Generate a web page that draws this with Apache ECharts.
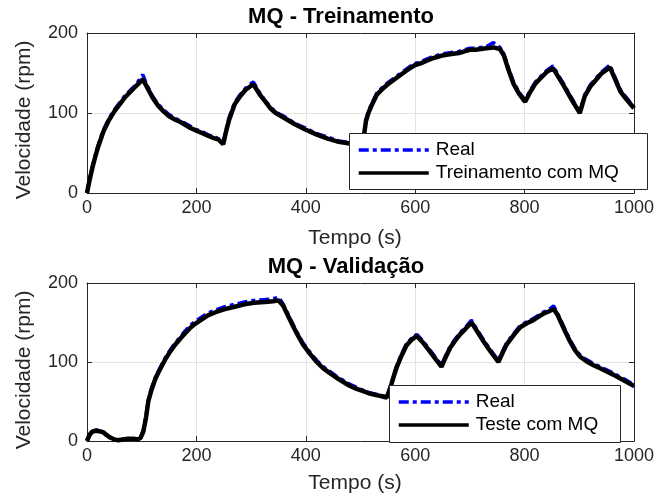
<!DOCTYPE html>
<html>
<head>
<meta charset="utf-8">
<script src="https://cdn.jsdelivr.net/npm/echarts@6/dist/echarts.min.js"></script>
<style>html,body{margin:0;padding:0;background:#fff}#c{width:667px;height:502px}</style>
</head>
<body>
<div id="c"></div>
<script>
// ---- Data ----
var xTicks = [0, 200, 400, 600, 800, 1000];
var yTicks = [0, 100, 200];

// Top plot: MQ - Treinamento
var tTrain = [0,5,10,15,20,30,40,50,60,70,80,90,102,110,120,130,140,150,160,170,180,190,200,210,220,230,240,249,255,260,270,280,290,304,315,325,335,345,360,380,400,420,440,460,480,495,505,510,515,520,530,540,550,560,570,580,590,600,610,620,630,640,650,660,670,680,690,700,710,720,730,743,755,762,770,780,790,801,810,820,830,840,852,860,870,880,890,901,910,920,930,940,956,965,975,985,995,1000];
var realTrain = [0,19,34,47,59,79,93,104,113,122,129,136,148,134,121,111,104,98,94,90,87,83,79,77,73,71,68,64,81,95,113,123,131,139,126,116,108,101,96,87,81,74,70,65,63,64,67,92,103,111,125,132,138,143,148,153,158,162,164,167,170,172,174,175,176,177,179,181,181,182,183,188,182,174,157,138,126,116,128,139,146,153,159,149,138,126,114,101,123,135,143,151,160,145,129,120,112,107];
var mqTrain = [0,17,32,45,57,77,91,102,111,120,127,134,142,132,119,109,102,96,92,89,85,81,78,75,72,69,67,61,79,92,111,121,129,136,124,115,106,100,94,86,79,73,68,64,62,62,65,90,101,109,123,130,136,141,146,151,156,160,162,165,168,170,172,173,174,175,177,179,179,180,181,182,180,172,155,136,124,114,126,137,144,151,156,147,136,124,112,100,121,133,141,149,157,143,127,118,110,106];

// Bottom plot: MQ - Validação
var tVal = [0,5,10,17,25,30,35,41,50,57,65,75,85,93,98,103,108,112,118,124,130,142,150,160,170,179,190,197,210,221,235,252,270,288,305,325,340,350,358,368,377,386,395,408,420,432,444,456,468,480,493,505,517,530,542,548,554,560,566,575,584,593,603,615,627,638,648,655,664,673,682,692,703,714,725,738,752,760,767,780,792,804,816,825,834,844,853,860,866,874,883,892,901,913,926,938,950,962,975,986,996,1000];
var realVal = [0,9,13,14,13,11,8,4,2,0,2,3,3,2,5,14,32,52,67,79,88,104,113,123,131,139,147,151,157,162,166,170,173,176,178,179,180,182,174,160,147,135,124,112,102,94,88,82,77,72,68,64,61,59,57,56,68,82,95,110,123,130,135,126,115,105,96,107,120,129,137,144,153,140,128,115,102,114,124,136,146,151,155,159,163,166,171,162,153,141,128,117,109,103,98,94,90,86,81,77,73,68];
var mqVal = [0,8,12,13,12,11,8,5,2,1,2,3,3,2,4,12,30,50,65,77,86,102,111,121,129,136,144,148,154,159,163,167,170,173,175,176,177,178,172,158,145,133,122,110,100,92,86,80,75,70,66,63,60,58,56,55,66,80,93,108,121,128,133,124,113,103,94,105,118,127,135,142,150,138,126,113,100,112,122,134,144,149,153,157,161,164,167,160,151,139,126,115,107,101,96,92,88,84,79,75,71,70];

var titles = ['MQ - Treinamento', 'MQ - Validação'];
var xName = 'Tempo (s)';
var yName = 'Velocidade (rpm)';
var legendTop = ['Real', 'Treinamento com MQ'];
var legendBottom = ['Real', 'Teste com MQ'];

// ---- Build ----
function pairs(t, v) { return t.map(function (x, i) { return [x, v[i]]; }); }

var FONT = '"Liberation Sans", Arial, Helvetica, sans-serif';
var AX = '#262626';
var GRID = '#e3e3e3';
function plain(v) { return String(v); }

function xAxisBottom(gi) {
  return {
    type: 'value', gridIndex: gi, position: 'bottom',
    min: xTicks[0], max: xTicks[xTicks.length - 1], interval: xTicks[1] - xTicks[0],
    axisLine: { show: true, onZero: false, lineStyle: { color: AX, width: 1 } },
    axisTick: { show: true, inside: true, length: 5, lineStyle: { color: AX } },
    axisLabel: { color: AX, fontSize: 18, fontFamily: FONT, margin: 6, formatter: plain },
    splitLine: { show: true, lineStyle: { color: GRID, width: 1 } }
  };
}
function xAxisTop(gi) {
  return {
    type: 'value', gridIndex: gi, position: 'top',
    min: xTicks[0], max: xTicks[xTicks.length - 1], interval: xTicks[1] - xTicks[0],
    axisLine: { show: true, onZero: false, lineStyle: { color: AX, width: 1 } },
    axisTick: { show: true, inside: true, length: 5, lineStyle: { color: AX } },
    axisLabel: { show: false }, splitLine: { show: false }
  };
}
function yAxisLeft(gi) {
  return {
    type: 'value', gridIndex: gi, position: 'left',
    min: yTicks[0], max: yTicks[yTicks.length - 1], interval: yTicks[1] - yTicks[0],
    axisLine: { show: true, onZero: false, lineStyle: { color: AX, width: 1 } },
    axisTick: { show: true, inside: true, length: 5, lineStyle: { color: AX } },
    axisLabel: { color: AX, fontSize: 18, fontFamily: FONT, margin: 9, formatter: plain },
    splitLine: { show: true, lineStyle: { color: GRID, width: 1 } }
  };
}
function yAxisRight(gi) {
  return {
    type: 'value', gridIndex: gi, position: 'right',
    min: yTicks[0], max: yTicks[yTicks.length - 1], interval: yTicks[1] - yTicks[0],
    axisLine: { show: true, onZero: false, lineStyle: { color: AX, width: 1 } },
    axisTick: { show: true, inside: true, length: 5, lineStyle: { color: AX } },
    axisLabel: { show: false }, splitLine: { show: false }
  };
}

function realSeries(name, data, xi, yi) {
  return {
    type: 'line', name: name, data: data, xAxisIndex: xi, yAxisIndex: yi,
    symbol: 'none', showSymbol: false, silent: true, z: 2,
    color: '#0000ff',
    lineStyle: { color: '#0000ff', width: 3.5, type: [10, 4, 4, 4] }
  };
}
function mqSeries(name, data, xi, yi) {
  return {
    type: 'line', name: name, data: data, xAxisIndex: xi, yAxisIndex: yi,
    symbol: 'none', showSymbol: false, silent: true, z: 3,
    color: '#000000',
    lineStyle: { color: '#000000', width: 4.5, type: 'solid' }
  };
}

function legend(data, left, top) {
  return {
    data: data, orient: 'vertical', left: left, top: top, z: 20,
    padding: [7, 0, 0, 8], itemGap: 3, itemWidth: 70, itemHeight: 14,
    selectedMode: false,
    itemStyle: { opacity: 0, color: 'rgba(0,0,0,0)', borderWidth: 0 },
    lineStyle: { width: 3.5 },
    textStyle: { color: '#000', fontSize: 19, lineHeight: 20, fontFamily: FONT, padding: [0, 0, 0, 2] }
  };
}

function txt(s, x, y, size, bold, rot) {
  return {
    type: 'text', x: x, y: y, rotation: rot || 0, silent: true, z: 10,
    style: {
      text: s, fill: bold ? '#000' : AX, fontSize: size, fontFamily: FONT,
      fontWeight: bold ? 'bold' : 'normal', textAlign: 'center', textVerticalAlign: 'middle'
    }
  };
}
function box(x, y, w, h) {
  return {
    type: 'rect', silent: true, z: 8,
    shape: { x: x + 0.5, y: y + 0.5, width: w, height: h },
    style: { fill: '#ffffff', stroke: AX, lineWidth: 1 }
  };
}

var chart = echarts.init(document.getElementById('c'), null, { renderer: 'canvas' });
chart.setOption({
  animation: false,
  backgroundColor: '#ffffff',
  grid: [
    { left: 87, right: 33, top: 33, height: 160 },
    { left: 87, right: 33, top: 283, height: 158 }
  ],
  xAxis: [xAxisBottom(0), xAxisTop(0), xAxisBottom(1), xAxisTop(1)],
  yAxis: [yAxisLeft(0), yAxisRight(0), yAxisLeft(1), yAxisRight(1)],
  legend: [
    legend(legendTop, 349, 133),
    legend(legendBottom, 389, 385)
  ],
  series: [
    realSeries(legendTop[0], pairs(tTrain, realTrain), 0, 0),
    mqSeries(legendTop[1], pairs(tTrain, mqTrain), 0, 0),
    realSeries(legendBottom[0], pairs(tVal, realVal), 2, 2),
    mqSeries(legendBottom[1], pairs(tVal, mqVal), 2, 2)
  ],
  graphic: [
    box(349, 133, 298, 56),
    box(389, 385, 231, 57),
    txt(titles[0], 341, 17, 22, true),
    txt(titles[1], 346, 267, 22, true),
    txt(yName, 24, 120, 21, false, Math.PI / 2),
    txt(yName, 24, 370, 21, false, Math.PI / 2),
    txt(xName, 355, 238, 21, false),
    txt(xName, 355, 483, 21, false)
  ]
});
</script>
</body>
</html>
